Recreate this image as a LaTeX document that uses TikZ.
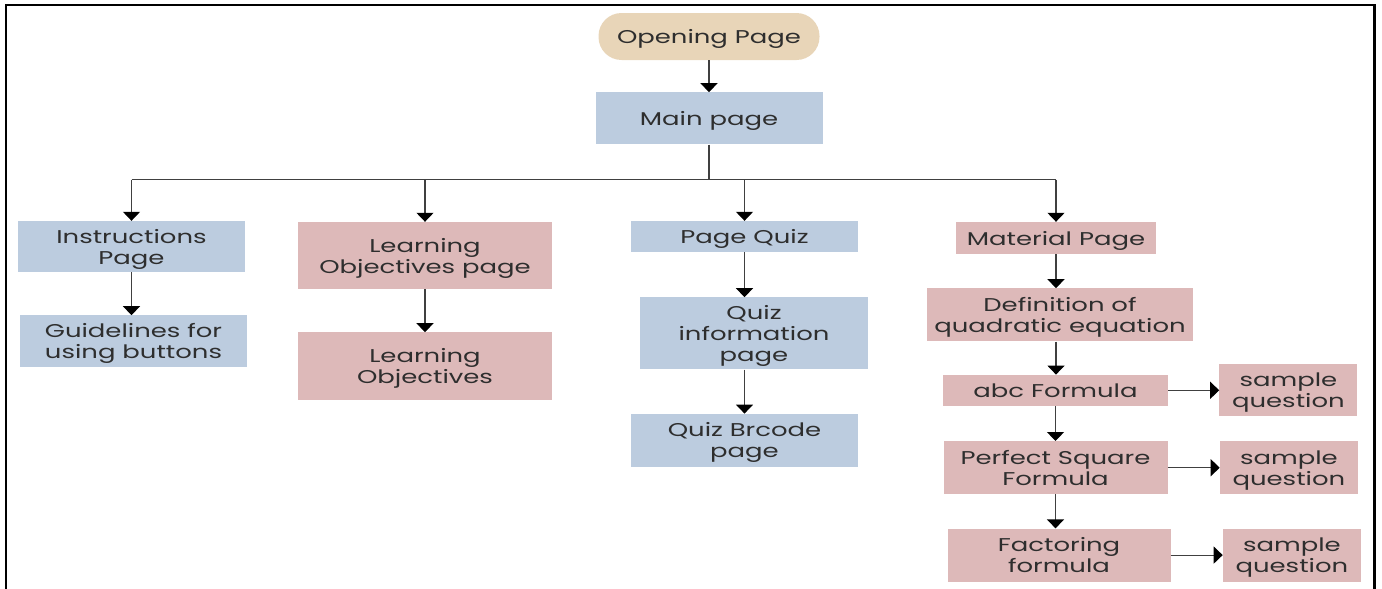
\documentclass[tikz,border=0pt]{standalone}
\usepackage{fontspec}
\setmainfont{Poppins}[FakeStretch=1.4]
\usetikzlibrary{arrows.meta, positioning}
\usepackage{xcolor}
\definecolor{boxblue}{HTML}{BCCCDF}
\definecolor{boxpink}{HTML}{DDB9B9}
\definecolor{boxtan}{HTML}{E8D5B8}
\definecolor{txtgray}{HTML}{2E2E2E}

\begin{document}
\begin{tikzpicture}[
    x=1pt, y=-1pt,
    node distance=43pt,
    font=\fontsize{18.5}{21}\selectfont,
    box/.style={rectangle, inner sep=0pt, align=center, text=txtgray, text depth=0pt},
    bluebox/.style={box, fill=boxblue},
    pinkbox/.style={box, fill=boxpink},
    arrow/.style={-{Triangle[width=17pt, length=9pt, color=black]}, line width=1.2pt, draw=black!75},
    link/.style={line width=1.2pt, draw=black!75}
]
\useasboundingbox (0,0) rectangle (1382,589);

% Moldura
\draw[line width=2.5pt] (6,589) -- (6,5) -- (1374.5,5) -- (1374.5,589);

% Topo
\node[box, fill=boxtan, rounded corners=23pt, minimum width=221pt, minimum height=47pt] (open) at (709,36.5) {Opening Page};
\node[bluebox, minimum width=227pt, minimum height=52pt, below=32pt of open] (main) {Main page};

% Coluna 1
\node[bluebox, minimum width=227pt, minimum height=51pt] (instr) at (131.5,246.5) {Instructions\\Page};
\node[bluebox, minimum width=227pt, minimum height=52pt, below=43pt of instr, xshift=2pt] (guide) {Guidelines for\\using buttons};

% Coluna 2
\node[pinkbox, minimum width=254pt, minimum height=67pt] (lop) at (425,255.5) {Learning\\Objectives page};
\node[pinkbox, minimum width=254pt, minimum height=68pt, below=of lop] (lo) {Learning\\Objectives};

% Coluna 3
\node[bluebox, minimum width=227pt, minimum height=31pt] (pq) at (744.5,236.5) {Page Quiz};
\node[bluebox, minimum width=228pt, minimum height=72pt, below=45pt of pq, xshift=9.5pt] (qinfo) {Quiz\\information\\page};
\node[bluebox, minimum width=227pt, minimum height=53pt, below=44pt of qinfo, xshift=-9.5pt] (qbar) {Quiz Brcode\\page};

% Coluna 4
\node[pinkbox, minimum width=200pt, minimum height=32pt] (mat) at (1056,238) {Material Page};
\node[pinkbox, minimum width=266pt, minimum height=53pt, below=34pt of mat, xshift=4pt] (def) {Definition of\\quadratic equation};
\node[pinkbox, minimum width=225pt, minimum height=31pt, below=33pt of def, xshift=-4.5pt] (abc) {abc Formula};
\node[pinkbox, minimum width=224pt, minimum height=53pt, below=35pt of abc] (psq) {Perfect Square\\Formula};
\node[pinkbox, minimum width=223pt, minimum height=53pt, below=34pt of psq, xshift=3.5pt] (fac) {Factoring\\formula};
\node[pinkbox, minimum width=138pt, minimum height=52pt, right=51pt of abc] (s1) {sample\\question};
\node[pinkbox, minimum width=138pt, minimum height=53pt, right=52pt of psq] (s2) {sample\\question};
\node[pinkbox, minimum width=138pt, minimum height=53pt, right=52pt of fac] (s3) {sample\\question};

% Setas
\draw[arrow] (open) -- (main);
\draw[link] (main.south) -- ++(0,35) coordinate (bus);
\draw[link] (instr.north |- bus) -- (mat.north |- bus);
\draw[arrow] (instr.north |- bus) -- (instr.north);
\draw[arrow] (lop.north |- bus) -- (lop.north);
\draw[arrow] (pq.north |- bus) -- (pq.north);
\draw[arrow] (mat.north |- bus) -- (mat.north);

\draw[arrow] (instr) -- (instr |- guide.north);
\draw[arrow] (lop) -- (lo);
\draw[arrow] (pq) -- (pq |- qinfo.north);
\draw[arrow] (qinfo.south -| pq) -- (qbar);
\draw[arrow] (mat) -- (mat |- def.north);
\draw[arrow] (def.south -| mat) -- (mat |- abc.north);
\draw[arrow] (abc) -- (abc |- psq.north);
\draw[arrow] (psq) -- (psq |- fac.north);

\draw[arrow] (abc.east) -- (abc.east -| s1.west);
\draw[arrow] (psq.east) -- (psq.east -| s2.west);
\draw[arrow] (fac.east) -- (fac.east -| s3.west);

\end{tikzpicture}
\end{document}
